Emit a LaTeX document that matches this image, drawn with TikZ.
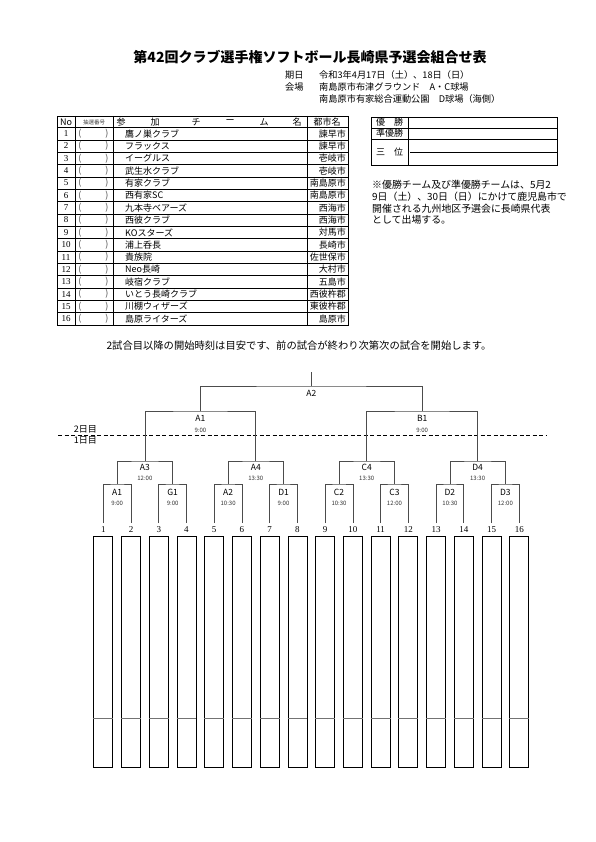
\documentclass[tikz,border=0pt]{standalone}
\usepackage{fontspec}
\setmainfont{Noto Sans CJK JP}
\newfontfamily\numfont{Liberation Serif}
\begin{document}
\begin{tikzpicture}[x=1pt,y=-1pt,
  txt/.style={inner sep=0pt,font=\fontsize{9.2}{11}\selectfont},
  ttxt/.style={inner sep=0pt,font=\fontsize{9}{11}\selectfont},
  tiny/.style={inner sep=0pt,font=\fontsize{5.5}{6}\selectfont},
  numtxt/.style={inner sep=0pt,font=\numfont\fontsize{9}{11}\selectfont},
  rlabel/.style={inner sep=0pt,font=\fontsize{8.5}{10}\selectfont},
  tlabel/.style={inner sep=0pt,font=\fontsize{6}{7}\selectfont,text=black!80},
  tline/.style={line width=0.6pt},
  brk/.style={draw=black!70,line width=0.7pt},
  entrybox/.style={draw=black,line width=0.8pt,minimum width=19pt,minimum height=231pt,inner sep=0pt,anchor=north},
]
\useasboundingbox (0,0) rectangle (595,842);
\fill[white] (0,0) rectangle (595,842);

% title and header
\node[inner sep=0pt,font=\fontsize{14}{16}\selectfont\bfseries] (title) at (310,57) {第42回クラブ選手権ソフトボール長崎県予選会組合せ表};
\node[txt,anchor=west] (kijitsu) at (285,75) {期日};
\node[txt,anchor=west] (date) at (319,75) {令和3年4月17日（土）、18日（日）};
\node[txt,anchor=west] (kaijo) at (285,87) {会場};
\node[txt,anchor=west] (venue1) at (319,87) {南島原市布津グラウンド　A・C球場};
\node[txt,anchor=west] (venue2) at (319,99) {南島原市有家総合運動公園　D球場（海側）};

% entry table
\draw[line width=0.8pt] (57,116) rectangle (348,325);
\draw[tline] (57,127.5) -- (348,127.5);
\foreach \r in {1,...,15} {
  \draw[tline] (57,{127.5+\r*12.34}) -- (348,{127.5+\r*12.34});
}
\foreach \cx in {75,113,307} {
  \draw[tline] (\cx,116) -- (\cx,325);
}
\node[ttxt] (hno) at (66,122) {No};
\node[tiny,text=black!75] (hdraw) at (94,122) {抽選番号};
\foreach \hx/\hchar [count=\hk] in {121/参,155/加,196/チ,230/ー,264/ム,297/名} {
  \node[ttxt] (hteam\hk) at (\hx,122) {\hchar};
}
\node[ttxt] (hcity) at (327,122) {都市名};
\foreach \team/\city [count=\ii] in {鷹ノ巣クラブ/諫早市,フラックス/諫早市,イーグルス/壱岐市,武生水クラブ/壱岐市,有家クラブ/南島原市,西有家SC/南島原市,九本寺ベアーズ/西海市,西彼クラブ/西海市,KOスターズ/対馬市,浦上呑長/長崎市,貴族院/佐世保市,Neo長崎/大村市,岐宿クラブ/五島市,いとう長崎クラブ/西彼杵郡,川棚ウィザーズ/東彼杵郡,島原ライターズ/島原市} {
  \pgfmathsetmacro\yy{127.5+(\ii-0.5)*12.34}
  \node[numtxt] (no\ii) at (66,\yy) {\ii};
  \node[ttxt,text=black!70] (lp\ii) at (80,\yy) {(};
  \node[ttxt,text=black!70] (rp\ii) at (107,\yy) {)};
  \node[ttxt,anchor=west] (team\ii) at (125,\yy) {\team};
  \node[ttxt,anchor=east] (city\ii) at (346,\yy) {\city};
}

% result box
\draw[line width=0.8pt] (371,117) rectangle (557,165);
\draw[tline] (371,128) -- (557,128);
\draw[tline] (371,139) -- (557,139);
\draw[tline] (408,117) -- (408,165);
\draw[tline] (410,152) -- (557,152);
\node[ttxt] (win) at (389.5,122.5) {優　勝};
\node[ttxt] (second) at (389.5,133.5) {準優勝};
\node[ttxt] (third) at (389.5,152) {三　位};

% note
\node[inner sep=0pt,anchor=north west,align=left,font=\fontsize{9.9}{11.8}\selectfont] (note) at (372,180) {※優勝チーム及び準優勝チームは、5月2\\9日（土）、30日（日）にかけて鹿児島市で\\開催される九州地区予選会に長崎県代表\\として出場する。};

\node[inner sep=0pt,font=\fontsize{10.3}{12}\selectfont] (instr) at (299,346) {2試合目以降の開始時刻は目安です、前の試合が終わり次第次の試合を開始します。};

% day divider
\draw[line width=0.8pt,dash pattern=on 4pt off 2.5pt] (58,435) -- (547,435);
\node[inner sep=0pt,anchor=east,font=\fontsize{9}{10}\selectfont] (day2) at (97,429.5) {2日目};
\node[inner sep=0pt,anchor=east,font=\fontsize{9}{10}\selectfont] (day1) at (97,440.5) {1日目};

% bracket coordinates
\foreach \ii in {1,...,16} {
  \pgfmathsetmacro\xx{103.3+(\ii-1)*27.73}
  \coordinate (L\ii) at (\xx,523);
  \node[numtxt] (n\ii) at (\xx,529.5) {\ii};
  \node[entrybox] (box\ii) at (\xx,536) {};
  \draw[black!55,line width=0.7pt] ([yshift=49pt]box\ii.south west) -- ([yshift=49pt]box\ii.south east);
}
\foreach \jj/\lab/\tmv in {1/A1/9:00,2/G1/9:00,3/A2/10:30,4/D1/9:00,5/C2/10:30,6/C3/12:00,7/D2/10:30,8/D3/12:00} {
  \pgfmathsetmacro\xx{103.3+(2*\jj-1.5)*27.73}
  \coordinate (R1-\jj) at (\xx,484);
  \node[rlabel] (m1lab\jj) at (\xx,492) {\lab};
  \node[tlabel] (m1tm\jj) at (\xx,503) {\tmv};
}
\foreach \kk/\lab/\tmv in {1/A3/12:00,2/A4/13:30,3/C4/13:30,4/D4/13:30} {
  \pgfmathsetmacro\xx{103.3+(4*\kk-2.5)*27.73}
  \coordinate (R2-\kk) at (\xx,461);
  \node[rlabel] (m2lab\kk) at (\xx,467) {\lab};
  \node[tlabel] (m2tm\kk) at (\xx,478) {\tmv};
}
\foreach \mm/\lab/\tmv in {1/A1/9:00,2/B1/9:00} {
  \pgfmathsetmacro\xx{103.3+(8*\mm-4.5)*27.73}
  \coordinate (R3-\mm) at (\xx,411);
  \node[rlabel] (m3lab\mm) at (\xx,418.5) {\lab};
  \node[tlabel] (m3tm\mm) at (\xx,430) {\tmv};
}
\coordinate (F) at (311.3,386);
\coordinate (T) at (311.3,372);
\node[rlabel] (finlab) at (311.3,393) {A2};

% bracket lines
\foreach \jj in {1,...,8} {
  \pgfmathtruncatemacro\pa{2*\jj-1}
  \pgfmathtruncatemacro\pb{2*\jj}
  \draw[brk] (L\pa) |- (R1-\jj) -| (L\pb);
}
\foreach \kk in {1,...,4} {
  \pgfmathtruncatemacro\pa{2*\kk-1}
  \pgfmathtruncatemacro\pb{2*\kk}
  \draw[brk] (R1-\pa) |- (R2-\kk) -| (R1-\pb);
}
\draw[brk] (R2-1) |- (R3-1) -| (R2-2);
\draw[brk] (R2-3) |- (R3-2) -| (R2-4);
\draw[brk] (R3-1) |- (F) -| (R3-2);
\draw[brk] (F) -- (T);
\end{tikzpicture}
\end{document}
